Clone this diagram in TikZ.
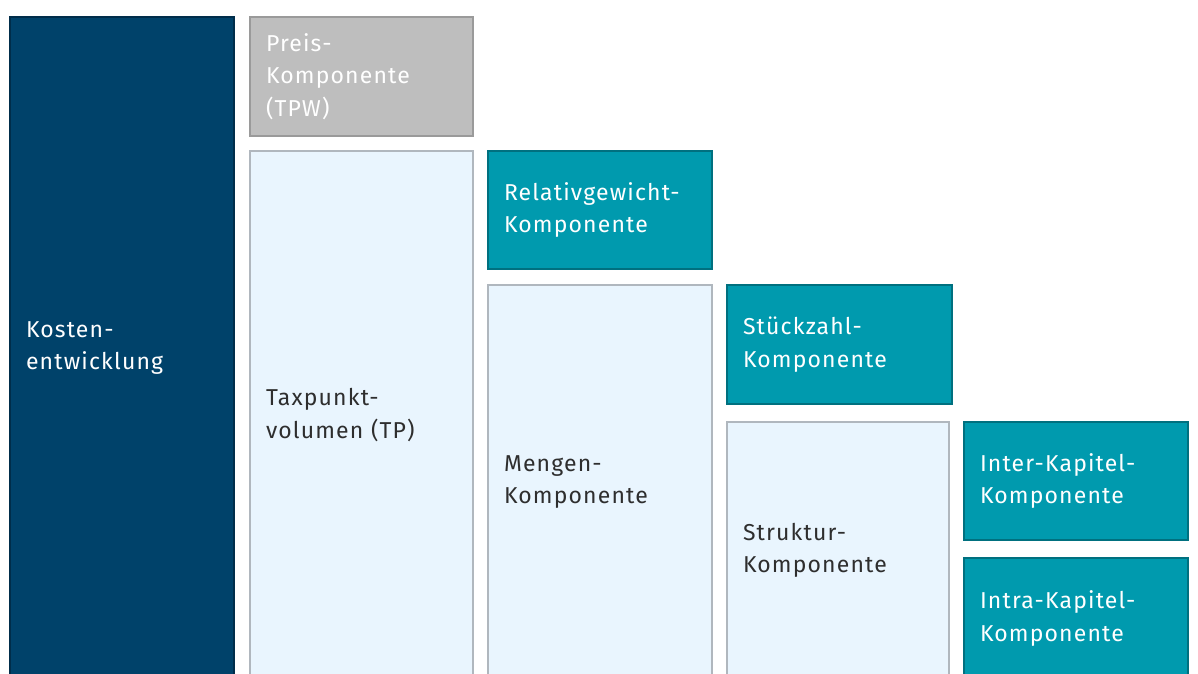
\documentclass[tikz,border=0pt]{standalone}
\usepackage{fontspec}
\setmainfont{Fira Sans}[LetterSpace=5]
\definecolor{navy}{HTML}{00426A}
\definecolor{navyline}{HTML}{002D4A}
\definecolor{teal}{HTML}{009AAE}
\definecolor{tealline}{HTML}{00707F}
\definecolor{pale}{HTML}{E9F5FE}
\definecolor{paleline}{HTML}{B0B7BE}
\definecolor{greyfill}{HTML}{BEBEBE}
\definecolor{greyline}{HTML}{9A9A9A}
\definecolor{darktext}{HTML}{2E2E2E}
\tikzset{
  base/.style={rectangle, anchor=north west, inner xsep=16pt, inner ysep=0pt,
    line width=2pt, align=left, font=\fontsize{23}{32.5}\selectfont},
  navybox/.style={base, fill=navy, draw=navyline, text=white},
  tealbox/.style={base, fill=teal, draw=tealline, text=white},
  palebox/.style={base, fill=pale, draw=paleline, text=darktext},
  greybox/.style={base, fill=greyfill, draw=greyline, text=white},
}
\newcommand{\bx}[6]{% style, name, x, y, w, h, text
  \node[#1, minimum width=#5pt, minimum height=#6pt, text width=#5pt-32pt] (#2) at (#3,#4)}
\begin{document}
\begin{tikzpicture}[x=1pt,y=-1pt]
\useasboundingbox (0,0) rectangle (1198,673);
\clip (0,0) rectangle (1198,673);
\fill[white] (0,0) rectangle (1198,673);
\bx{navybox}{kosten}{9}{16}{224}{662} {Kosten-\\entwicklung};
\bx{greybox}{preis}{249}{16}{223}{119} {Preis-\\Komponente\\(TPW)};
\bx{palebox}{tp}{249}{150}{223}{528} {Taxpunkt-\\volumen (TP)};
\bx{tealbox}{rel}{487}{150}{224}{118} {Relativgewicht-\\Komponente};
\bx{palebox}{mengen}{487}{284}{224}{394} {Mengen-\\Komponente};
\bx{tealbox}{stueck}{726}{284}{225}{119} {Stückzahl-\\Komponente};
\bx{palebox}{struktur}{726}{421}{222}{257} {Struktur-\\Komponente};
\bx{tealbox}{inter}{963}{421}{224}{118} {Inter-Kapitel-\\Komponente};
\bx{tealbox}{intra}{963}{557}{224}{121} {Intra-Kapitel-\\Komponente};
\end{tikzpicture}
\end{document}
